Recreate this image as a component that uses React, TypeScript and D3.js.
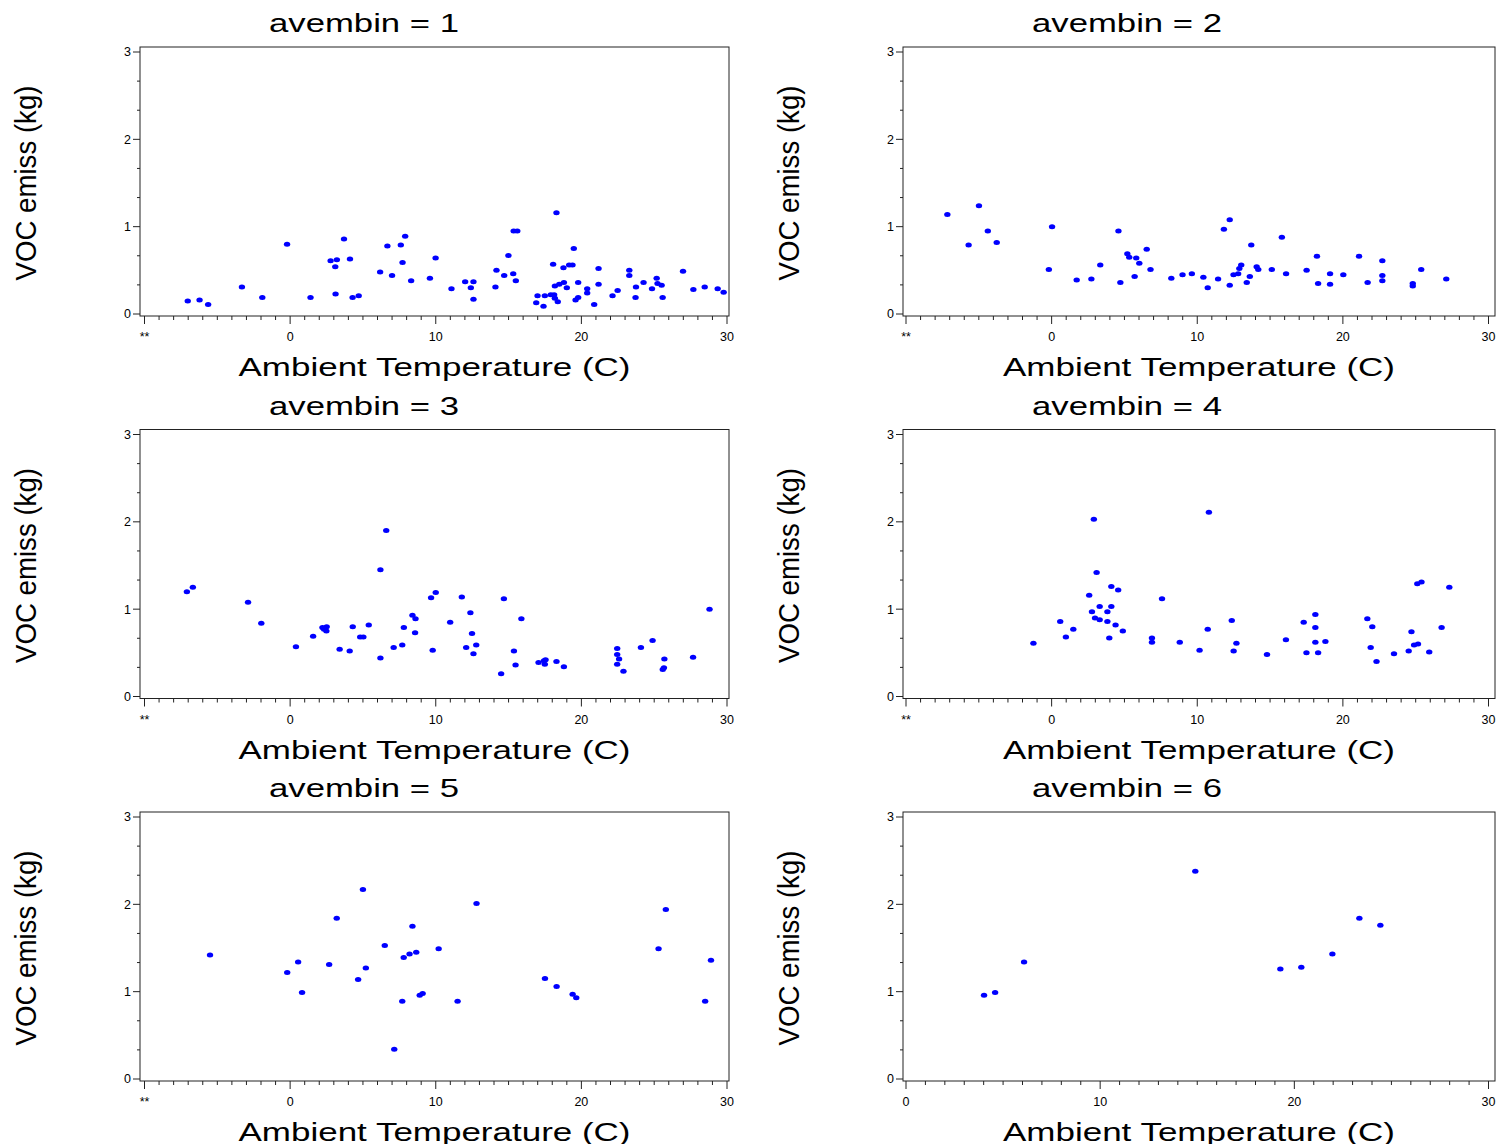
import React from 'react';
import * as d3 from 'd3';

// [ambient temperature (C), VOC emiss (kg)] for each avembin group
const bin1: [number, number][] = [
  [-7.03, 0.15], [-6.22, 0.16], [-5.63, 0.11], [-3.31, 0.31], [-1.91, 0.19], [-0.21, 0.8],
  [1.4, 0.19], [2.78, 0.61], [3.21, 0.62], [3.1, 0.54], [3.12, 0.23], [3.7, 0.86],
  [4.11, 0.63], [4.29, 0.19], [4.71, 0.21], [6.18, 0.48], [6.68, 0.78], [7.0, 0.44],
  [7.6, 0.79], [7.72, 0.59], [7.9, 0.89], [8.31, 0.38], [9.6, 0.41], [9.99, 0.64],
  [11.08, 0.29], [12.02, 0.37], [12.59, 0.37], [12.41, 0.3], [12.59, 0.17], [14.17, 0.5],
  [14.1, 0.31], [14.7, 0.44], [14.99, 0.67], [15.32, 0.46], [15.5, 0.38], [15.35, 0.95],
  [15.6, 0.95], [16.9, 0.13], [16.99, 0.21], [17.4, 0.09], [17.49, 0.21], [17.9, 0.22],
  [18.13, 0.22], [18.06, 0.57], [18.29, 1.16], [18.18, 0.32], [18.18, 0.18], [18.38, 0.14],
  [18.48, 0.34], [18.8, 0.36], [18.77, 0.53], [19.0, 0.3], [19.16, 0.56], [19.39, 0.56],
  [19.48, 0.75], [19.78, 0.36], [19.6, 0.16], [19.78, 0.19], [20.4, 0.29], [20.4, 0.24],
  [20.88, 0.11], [21.18, 0.52], [21.18, 0.34], [22.14, 0.21], [22.49, 0.27], [23.29, 0.5],
  [23.29, 0.44], [23.75, 0.31], [23.72, 0.19], [24.27, 0.36], [24.85, 0.29], [25.17, 0.41],
  [25.23, 0.35], [25.51, 0.33], [25.58, 0.19], [26.98, 0.49], [27.69, 0.28], [28.47, 0.31],
  [29.36, 0.29], [29.77, 0.25],
];

const bin2: [number, number][] = [
  [-7.16, 1.14], [-5.7, 0.79], [-4.99, 1.24], [-4.38, 0.95], [-3.77, 0.82], [-0.19, 0.51],
  [0.03, 1.0], [1.72, 0.39], [2.73, 0.4], [3.34, 0.56], [4.59, 0.95], [4.72, 0.36],
  [5.2, 0.69], [5.33, 0.65], [5.7, 0.43], [5.81, 0.64], [6.02, 0.58], [6.53, 0.74],
  [6.79, 0.51], [8.22, 0.41], [8.99, 0.45], [9.63, 0.46], [10.42, 0.42], [10.72, 0.3],
  [11.43, 0.4], [11.83, 0.97], [12.23, 1.08], [12.23, 0.33], [12.49, 0.45], [12.81, 0.46],
  [12.89, 0.52], [13.02, 0.56], [13.4, 0.36], [13.61, 0.43], [13.71, 0.79], [14.08, 0.54],
  [14.19, 0.51], [15.12, 0.51], [15.81, 0.88], [16.1, 0.46], [17.51, 0.5], [18.22, 0.66],
  [18.3, 0.35], [19.12, 0.46], [19.12, 0.34], [20.03, 0.45], [21.11, 0.66], [21.7, 0.36],
  [22.71, 0.61], [22.71, 0.44], [22.71, 0.38], [24.8, 0.35], [24.8, 0.32], [25.38, 0.51],
  [27.1, 0.4],
];

const bin3: [number, number][] = [
  [-7.09, 1.2], [-6.68, 1.25], [-2.89, 1.08], [-1.98, 0.84], [0.4, 0.57], [1.58, 0.69],
  [2.22, 0.79], [2.33, 0.77], [2.51, 0.8], [2.49, 0.75], [3.4, 0.54], [4.09, 0.52],
  [4.3, 0.8], [4.81, 0.68], [5.03, 0.68], [5.4, 0.82], [6.2, 1.45], [6.2, 0.44],
  [6.6, 1.9], [7.11, 0.56], [7.7, 0.59], [7.81, 0.79], [8.4, 0.93], [8.61, 0.89],
  [8.58, 0.73], [9.68, 1.13], [9.79, 0.53], [10.0, 1.19], [10.99, 0.85], [11.79, 1.14],
  [12.09, 0.56], [12.38, 0.96], [12.49, 0.72], [12.78, 0.59], [12.59, 0.49], [14.68, 1.12],
  [14.49, 0.26], [15.37, 0.52], [15.48, 0.36], [15.88, 0.89], [17.06, 0.39], [17.43, 0.41],
  [17.54, 0.42], [17.49, 0.37], [18.29, 0.4], [18.8, 0.34], [22.46, 0.55], [22.46, 0.48],
  [22.59, 0.43], [22.46, 0.37], [22.89, 0.29], [24.09, 0.56], [24.89, 0.64], [25.7, 0.43],
  [25.59, 0.31], [25.67, 0.33], [27.67, 0.45], [28.8, 1.0],
];

const bin4: [number, number][] = [
  [-1.25, 0.61], [0.59, 0.86], [0.98, 0.68], [1.49, 0.77], [2.58, 1.16], [2.77, 0.97],
  [2.9, 2.03], [2.98, 0.9], [3.09, 1.42], [3.3, 1.03], [3.3, 0.88], [3.83, 0.97],
  [3.83, 0.86], [3.96, 0.67], [4.1, 1.26], [4.1, 1.03], [4.39, 0.82], [4.57, 1.22],
  [4.89, 0.75], [6.89, 0.67], [6.89, 0.62], [7.58, 1.12], [8.8, 0.62], [10.16, 0.53],
  [10.72, 0.77], [10.8, 2.11], [12.37, 0.87], [12.5, 0.52], [12.69, 0.61], [14.79, 0.48],
  [16.09, 0.65], [17.31, 0.85], [17.5, 0.5], [18.11, 0.94], [18.11, 0.79], [18.11, 0.62],
  [18.3, 0.5], [18.8, 0.63], [21.68, 0.89], [22.02, 0.8], [21.91, 0.56], [22.31, 0.4],
  [23.51, 0.49], [24.52, 0.52], [24.71, 0.74], [24.89, 0.59], [25.16, 0.6], [25.11, 1.29],
  [25.4, 1.31], [25.93, 0.51], [26.78, 0.79], [27.31, 1.25],
];

const bin5: [number, number][] = [
  [-5.5, 1.42], [-0.2, 1.22], [0.55, 1.34], [0.82, 0.99], [2.68, 1.31], [3.2, 1.84],
  [4.67, 1.14], [5.0, 2.17], [5.2, 1.27], [6.5, 1.53], [7.15, 0.34], [7.7, 0.89],
  [7.8, 1.39], [8.2, 1.43], [8.4, 1.75], [8.66, 1.45], [8.9, 0.96], [9.1, 0.98],
  [10.2, 1.49], [11.5, 0.89], [12.8, 2.01], [17.5, 1.15], [18.3, 1.06], [19.4, 0.97],
  [19.65, 0.93], [25.3, 1.49], [25.8, 1.94], [28.5, 0.89], [28.9, 1.36],
];

const bin6: [number, number][] = [
  [4.02, 0.96], [4.59, 0.99], [6.08, 1.34], [14.9, 2.38], [19.28, 1.26], [20.36, 1.28],
  [21.96, 1.43], [23.35, 1.84], [24.43, 1.76],
];

const bins = [bin1, bin2, bin3, bin4, bin5, bin6];
const binLabels = ['1', '2', '3', '4', '5', '6'];
const xMajor = [-10, 0, 10, 20, 30];
const yMajor = [0, 1, 2, 3];

const FONT = '"Liberation Sans", Arial, Helvetica, sans-serif';

const Panel = ({ idx }: { idx: number }) => {
  const col = idx % 2;
  const row = Math.floor(idx / 2);
  const ox = col === 0 ? 0 : 761.5;
  const oy = row * 382.5;
  const xMin = idx === 5 ? 0 : -10;

  const x = d3.scaleLinear().domain([xMin, 30]).range([144.5 + ox, 727 + ox]);
  const y = d3.scaleLinear().domain([0, 3]).range([314 + oy, 52 + oy]);

  const fx0 = col === 0 ? 140 : 903;
  const fx1 = col === 0 ? 729 : 1495;
  const fy0 = 47 + oy;
  const fy1 = 316 + oy;

  const xMinor = d3.range(xMin, 31, 1).filter(v => v % 10 !== 0);
  const yMinor = d3.range(0, 9).map(i => i / 3).filter((v, i) => i % 3 !== 0);
  const ticksX = xMajor.filter(v => v >= xMin);

  return (
    <g>
      <text x={col === 0 ? 364 : 1127} y={32 + oy} textAnchor="middle" fontFamily={FONT}
        fontSize={25} textLength={190} lengthAdjust="spacingAndGlyphs" fill="#000">
        avembin = {binLabels[idx]}
      </text>

      <rect x={fx0} y={fy0} width={fx1 - fx0} height={fy1 - fy0} fill="none" stroke="#222" strokeWidth={1} />

      {/* y axis */}
      {yMajor.map(v => (
        <g key={'ym' + v}>
          <line x1={fx0 - 7} x2={fx0} y1={y(v)} y2={y(v)} stroke="#222" />
          <text x={fx0 - 9} y={y(v)} dy="0.35em" textAnchor="end" fontFamily={FONT} fontSize={12.5} fill="#000">{v}</text>
        </g>
      ))}
      {yMinor.map(v => (
        <line key={'yn' + v} x1={fx0 - 3} x2={fx0} y1={y(v)} y2={y(v)} stroke="#222" />
      ))}

      {/* x axis */}
      {ticksX.map(v => (
        <g key={'xm' + v}>
          <line x1={x(v)} x2={x(v)} y1={fy1} y2={fy1 + 8} stroke="#222" />
          <text x={x(v)} y={341 + oy} textAnchor="middle" fontFamily={FONT} fontSize={12.5} fill="#000">
            {v === -10 ? '**' : v}
          </text>
        </g>
      ))}
      {xMinor.map(v => (
        <line key={'xn' + v} x1={x(v)} x2={x(v)} y1={fy1} y2={fy1 + 4} stroke="#222" />
      ))}

      <text x={(fx0 + fx1) / 2} y={376 + oy} textAnchor="middle" fontFamily={FONT} fontSize={25}
        textLength={392} lengthAdjust="spacingAndGlyphs" fill="#000">
        Ambient Temperature (C)
      </text>

      <text transform={`translate(${36 + (col === 0 ? 0 : 763)},${183 + oy}) rotate(-90)`} textAnchor="middle"
        fontFamily={FONT} fontSize={30} textLength={195} lengthAdjust="spacingAndGlyphs" fill="#000">
        VOC emiss (kg)
      </text>

      {bins[idx].map((d, i) => (
        <ellipse key={i} cx={x(d[0])} cy={y(d[1])} rx={3.2} ry={2.5} fill="#0000ff" />
      ))}
    </g>
  );
};

const App = () => (
  <svg width={1501} height={1144} style={{ position: 'absolute', left: 0, top: 0, background: '#fff' }}>
    <rect width={1501} height={1144} fill="#fff" />
    {bins.map((_, i) => <Panel key={i} idx={i} />)}
  </svg>
);

export default App;
